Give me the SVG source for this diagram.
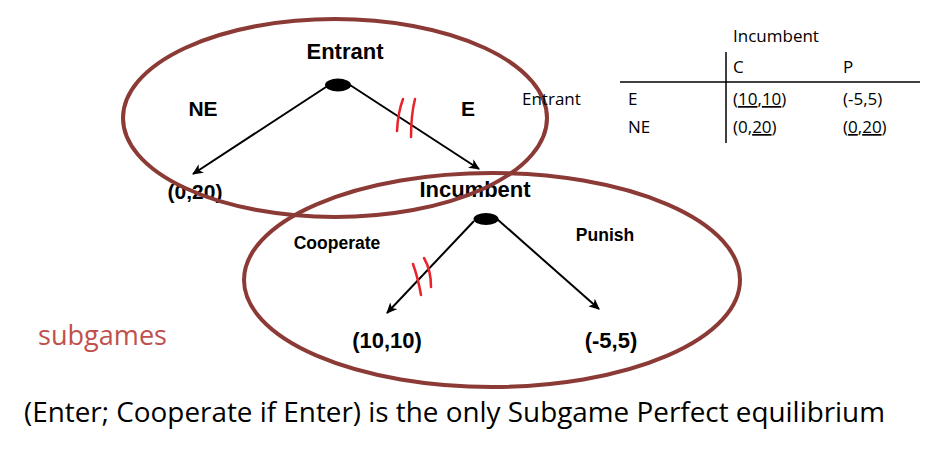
<svg xmlns="http://www.w3.org/2000/svg" width="936" height="471" viewBox="0 0 936 471">
<defs>
<style>
.b{font-family:"Liberation Sans",Arial,sans-serif;font-weight:bold;fill:#000}
.t{font-family:"Open Sans","Liberation Sans",sans-serif;font-size:17px;fill:#000}
.edge{stroke:#000;stroke-width:2;fill:none;marker-end:url(#ah)}
.sg{fill:none;stroke:#8B3A36;stroke-width:4}
.hash{fill:none;stroke:#E8232A;stroke-width:2.5;stroke-linecap:round}
.u{text-decoration:underline}
</style>
<marker id="ah" markerWidth="12" markerHeight="10" refX="10" refY="5" orient="auto" markerUnits="userSpaceOnUse">
<path d="M0,0 L11,5 L0,10 L3,5 Z" fill="#000"/>
</marker>
</defs>
<rect width="936" height="471" fill="#fff"/>

<g id="connectors">
<line class="edge" x1="326" y1="87" x2="193" y2="174"/>
<line class="edge" x1="350" y1="85" x2="479" y2="169"/>
<line class="edge" x1="474" y1="221" x2="387" y2="313"/>
<line class="edge" x1="497" y1="219" x2="599" y2="309"/>
</g>

<g id="hash-marks">
<path class="hash" d="M403,99 Q398,112 397,131"/>
<path class="hash" d="M415,99 Q411,115 411,137"/>
<path class="hash" d="M413,264 Q418,278 421,295"/>
<path class="hash" d="M424,258 Q431,270 431,287"/>
</g>

<g id="node-entrant">
<ellipse cx="338" cy="85" rx="13" ry="6.5" fill="#000"/>
<text class="b" x="345" y="59" font-size="22" text-anchor="middle">Entrant</text>
</g>
<g id="label-ne"><text class="b" x="203" y="116" font-size="21" text-anchor="middle">NE</text></g>
<g id="label-e"><text class="b" x="468" y="116" font-size="21" text-anchor="middle">E</text></g>
<g id="payoff-0-20"><text class="b" x="195" y="199" font-size="21" text-anchor="middle">(0,20)</text></g>

<g id="node-incumbent">
<ellipse cx="486" cy="219" rx="12.5" ry="6" fill="#000"/>
<text class="b" x="475" y="197" font-size="22" text-anchor="middle">Incumbent</text>
</g>
<g id="label-cooperate"><text class="b" x="337" y="249" font-size="17.5" text-anchor="middle">Cooperate</text></g>
<g id="label-punish"><text class="b" x="605" y="241" font-size="17.5" text-anchor="middle">Punish</text></g>
<g id="payoff-10-10"><text class="b" x="387" y="348" font-size="22" text-anchor="middle">(10,10)</text></g>
<g id="payoff-m5-5"><text class="b" x="611" y="348" font-size="22" text-anchor="middle">(-5,5)</text></g>

<g id="subgame-1"><ellipse class="sg" cx="335" cy="118" rx="212" ry="99"/></g>
<g id="subgame-2"><ellipse class="sg" cx="492" cy="280" rx="248" ry="107"/></g>

<g id="table">
<line x1="726" y1="52" x2="726" y2="143" stroke="#000" stroke-width="1.5"/>
<line x1="620" y1="82" x2="920" y2="82" stroke="#000" stroke-width="1.5"/>
<text class="t" x="733" y="42">Incumbent</text>
<text class="t" x="733" y="73">C</text>
<text class="t" x="843" y="73">P</text>
<text class="t" x="522" y="105">Entrant</text>
<text class="t" x="628" y="105">E</text>
<text class="t" x="628" y="133">NE</text>
<text class="t" x="733" y="105">(<tspan class="u">10</tspan>,<tspan class="u">10</tspan>)</text>
<text class="t" x="843" y="105">(-5,5)</text>
<text class="t" x="733" y="133">(0,<tspan class="u">20</tspan>)</text>
<text class="t" x="843" y="133">(<tspan class="u">0</tspan>,<tspan class="u">20</tspan>)</text>
</g>

<g id="caption">
<text x="38" y="345" font-family="Open Sans, Liberation Sans, sans-serif" font-size="27" fill="#C0504D" textLength="129" lengthAdjust="spacingAndGlyphs">subgames</text>
<text x="24" y="422" font-family="Open Sans, Liberation Sans, sans-serif" font-size="27" fill="#000" textLength="861" lengthAdjust="spacingAndGlyphs">(Enter; Cooperate if Enter) is the only Subgame Perfect equilibrium</text>
</g>
</svg>
